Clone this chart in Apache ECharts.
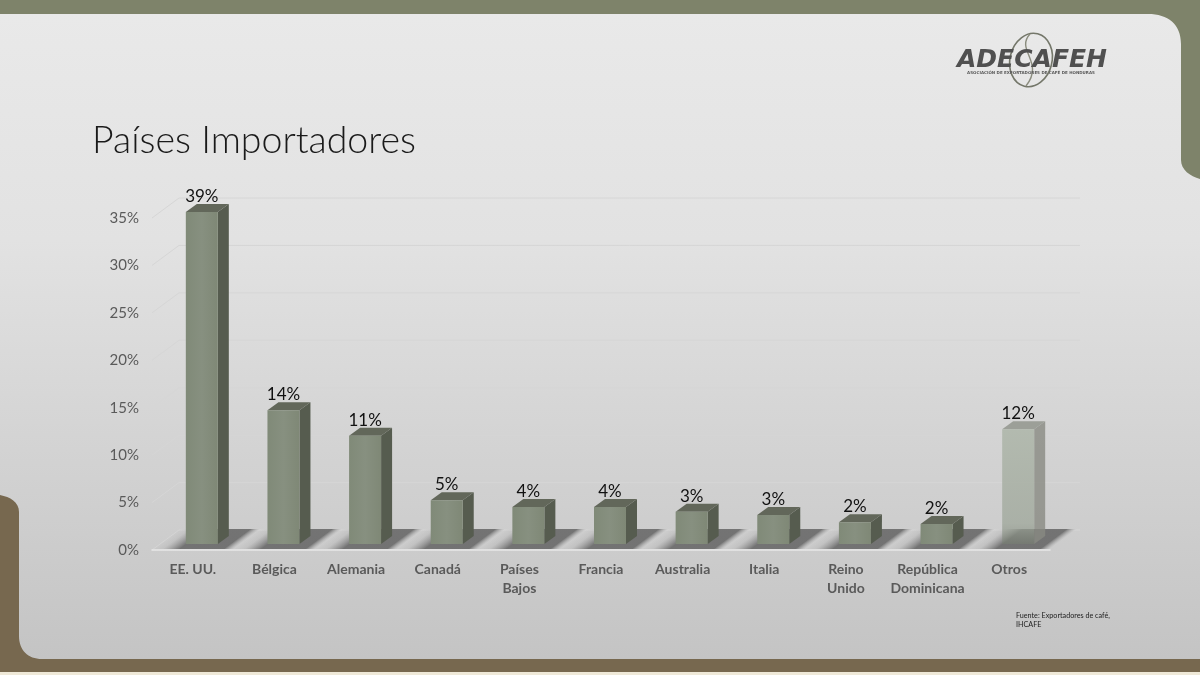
<!DOCTYPE html>
<html lang="es">
<head>
<meta charset="utf-8">
<title>Países Importadores</title>
<script src="https://cdn.jsdelivr.net/npm/echarts@6/dist/echarts.min.js"></script>
<style>html,body{margin:0;padding:0;background:#efe9d8}#chart{width:1200px;height:675px}</style>
</head>
<body>
<div id="chart"></div>
<script>
const categories = ['EE. UU.', 'Bélgica', 'Alemania', 'Canadá', 'Países\nBajos', 'Francia', 'Australia', 'Italia', 'Reino\nUnido', 'República\nDominicana', 'Otros'];
const shares = [39, 14.1, 11.4, 4.6, 3.9, 3.9, 3.4, 3.05, 2.3, 2.1, 12.1];
const shareLabels = ['39%', '14%', '11%', '5%', '4%', '4%', '3%', '3%', '2%', '2%', '12%'];
const yTicks = [0, 5, 10, 15, 20, 25, 30, 35];
const yMax = 35;
const translucentCategory = 'Otros';

const FONT = 'Lato, "Open Sans", sans-serif';
const WALL_DX = 27, WALL_DY = -20;
const BAR_W = 32, BAR_DX = 11, BAR_DY = -8;
const BASE_DX = 9, BASE_DY = -6;

function panelItem() {
  return {
    type: 'path', silent: true,
    shape: {
      pathData: 'M0 14 L1148 14 C1168 14 1181 24 1181 44 L1181 160 C1181 170 1190 176 1200 179 L1200 659 L42 659 C28 659 19 650 19 636 L19 512 C19 502 10 497 0 495 Z',
      x: 0, y: 14, width: 1200, height: 645, layout: 'cover'
    },
    style: {
      fill: new echarts.graphic.LinearGradient(0, 0, 0, 1, [
        { offset: 0, color: '#e9e9e9' },
        { offset: 0.35, color: '#e2e2e2' },
        { offset: 1, color: '#c4c4c4' }])
    }
  };
}

function wallItem(params, api) {
  const cs = params.coordSys;
  const y = api.coord([0, api.value(0)])[1];
  return {
    type: 'polyline', silent: true,
    shape: { points: [[cs.x, y], [cs.x + WALL_DX, y + WALL_DY], [cs.x + cs.width + WALL_DX + 3, y + WALL_DY]] },
    style: { fill: 'none', stroke: '#d6d6d6', lineWidth: 1 }
  };
}

function floorItem(params, api) {
  const cs = params.coordSys;
  const band = cs.width / categories.length;
  const l = cs.x + band * params.dataIndex;
  const y = cs.y + cs.height - 1;
  const w = band + 2;
  return {
    type: 'polygon', silent: true,
    shape: { points: [[l, y], [l + w, y], [l + w + WALL_DX, y + WALL_DY], [l + WALL_DX, y + WALL_DY]] },
    style: {
      fill: new echarts.graphic.LinearGradient(l, y, l + 29, y + 39, [
        { offset: 0, color: 'rgba(130,130,130,0)' },
        { offset: 0.13, color: 'rgba(125,125,125,0.12)' },
        { offset: 0.34, color: 'rgba(90,90,90,0.78)' },
        { offset: 0.88, color: 'rgba(95,95,95,0.82)' },
        { offset: 0.98, color: 'rgba(140,140,140,0.12)' },
        { offset: 1, color: 'rgba(140,140,140,0)' }
      ], true)
    }
  };
}

function barItem(params, api) {
  const i = api.value(0);
  const v = api.value(1);
  const p = api.coord([i, Math.min(v, yMax)]);
  const base = api.coord([i, 0]);
  const x0 = p[0] + BASE_DX - BAR_W / 2, x1 = x0 + BAR_W;
  const top = p[1] + BASE_DY, bot = base[1] + BASE_DY;
  const glass = categories[i] === translucentCategory;
  const front = glass
    ? new echarts.graphic.LinearGradient(0, 0, 0, 1, [
        { offset: 0, color: 'rgba(176,184,172,0.92)' },
        { offset: 0.82, color: 'rgba(160,168,156,0.78)' },
        { offset: 1, color: 'rgba(120,128,114,0.55)' }])
    : new echarts.graphic.LinearGradient(0, 0, 1, 0, [
        { offset: 0, color: '#808a78' },
        { offset: 0.5, color: '#879080' },
        { offset: 1, color: '#7f8876' }]);
  const side = glass ? 'rgba(136,138,130,0.8)' : '#565c4f';
  const cap = glass ? 'rgba(150,153,145,0.9)' : '#62675a';
  return {
    type: 'group',
    children: [
      { type: 'polygon', shape: { points: [[x1, top], [x1 + BAR_DX, top + BAR_DY], [x1 + BAR_DX, bot + BAR_DY], [x1, bot]] }, style: { fill: side } },
      { type: 'polygon', shape: { points: [[x0, top], [x1, top], [x1 + BAR_DX, top + BAR_DY], [x0 + BAR_DX, top + BAR_DY]] }, style: { fill: cap } },
      { type: 'rect', shape: { x: x0, y: top, width: BAR_W, height: bot - top }, style: { fill: front } },
      { type: 'text', style: { x: x0 + BAR_W / 2, y: top + BAR_DY - 7.5, text: shareLabels[i], textAlign: 'center', textVerticalAlign: 'middle', font: '17px ' + FONT, fill: '#111111' } }
    ]
  };
}

const frameBack = [
  { type: 'rect', z: -30, shape: { x: 0, y: 0, width: 1200, height: 14 }, style: { fill: '#7e836a' } },
  { type: 'rect', z: -30, shape: { x: 1150, y: 0, width: 50, height: 190 }, style: { fill: '#7e836a' } },
  { type: 'rect', z: -30, shape: { x: 0, y: 650, width: 1200, height: 22 }, style: { fill: '#77684f' } },
  { type: 'rect', z: -30, shape: { x: 0, y: 490, width: 30, height: 182 }, style: { fill: '#77684f' } }
];

const logo = [
  { type: 'ellipse', z: 5, rotation: -0.25, originX: 1031, originY: 60, shape: { cx: 1031, cy: 60, rx: 21, ry: 27 }, style: { fill: 'none', stroke: '#74776a', lineWidth: 1.6 } },
  { type: 'bezierCurve', z: 5, shape: { x1: 1030, y1: 34, cpx1: 1015, cpy1: 50, cpx2: 1045, cpy2: 62, x2: 1026, y2: 86 }, style: { fill: 'none', stroke: '#8a8c7e', lineWidth: 1.4 } },
  { type: 'text', z: 6, style: { x: 1032, y: 60, text: 'ADECAFEH', textAlign: 'center', textVerticalAlign: 'middle', font: 'italic bold 25px "DejaVu Sans"', fill: '#505050' } },
  { type: 'text', z: 6, style: { x: 1031, y: 73, text: 'ASOCIACIÓN DE EXPORTADORES DE CAFÉ DE HONDURAS', textAlign: 'center', textVerticalAlign: 'middle', font: 'bold 4px "DejaVu Sans"', fill: '#5a5a5a' } },
  { type: 'text', z: 6, style: { x: 1016, y: 616, text: 'Fuente: Exportadores de café,', textVerticalAlign: 'middle', font: '7.2px ' + FONT, fill: '#222222' } },
  { type: 'text', z: 6, style: { x: 1016, y: 625, text: 'IHCAFE', textVerticalAlign: 'middle', font: '7.2px ' + FONT, fill: '#222222' } }
];

const chart = echarts.init(document.getElementById('chart'), null, { renderer: 'canvas' });
chart.setOption({
  animation: false,
  backgroundColor: '#efe9d8',
  graphic: { elements: frameBack.concat(logo) },
  title: {
    text: 'Países Importadores', left: 87, top: 117,
    textStyle: { fontFamily: FONT, fontWeight: 300, fontSize: 37.5, color: '#1a1a1a' }
  },
  grid: { left: 152, width: 898, top: 218, height: 332 },
  xAxis: {
    type: 'category', data: categories, z: 6,
    axisTick: { show: false },
    axisLine: { lineStyle: { color: '#e8e8e8', width: 1.5 } },
    axisLabel: { interval: 0, margin: 10, fontFamily: FONT, fontWeight: 'bold', fontSize: 14, lineHeight: 19, color: '#5a5a5a', verticalAlign: 'top' }
  },
  yAxis: {
    type: 'value', min: 0, max: yMax, interval: 5, z: 6,
    axisLine: { show: false }, axisTick: { show: false }, splitLine: { show: false },
    axisLabel: { margin: 13, formatter: '{value}%', fontFamily: FONT, fontSize: 15, color: '#5a5a5a', padding: [4, 0, 0, 0] }
  },
  series: [
    { type: 'custom', z: 1, silent: true, renderItem: panelItem, data: [[0]], clip: false, tooltip: { show: false } },
    { type: 'custom', z: 2, silent: true, renderItem: wallItem, data: yTicks.map(t => [t]), encode: { y: 0 } },
    { type: 'custom', z: 3, silent: true, renderItem: floorItem, data: categories.map((c, i) => [i, 0]), encode: { x: 0, y: 1 } },
    { type: 'custom', z: 4, renderItem: barItem, data: shares.map((v, i) => [i, v]), encode: { x: 0, y: 1 } }
  ]
});
</script>
</body>
</html>
